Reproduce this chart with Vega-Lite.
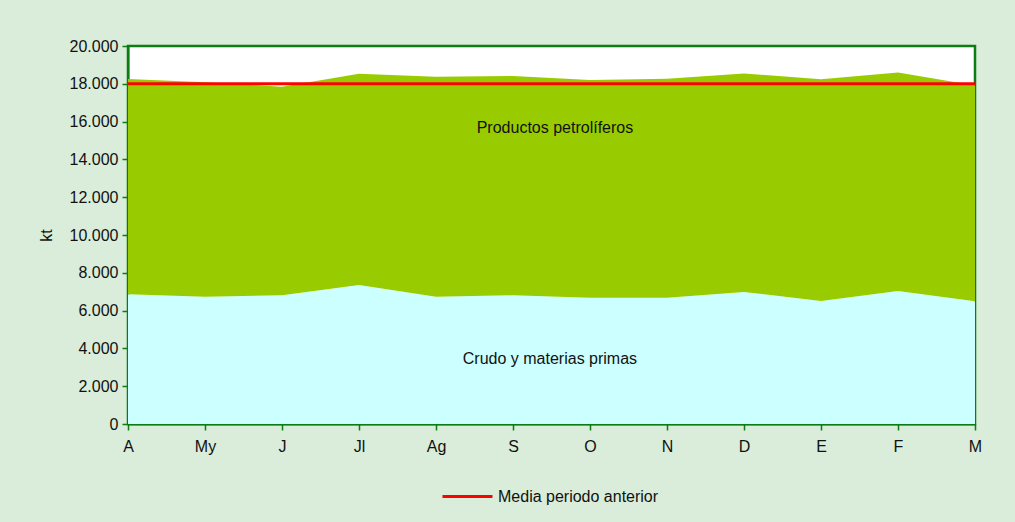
{
  "$schema": "https://vega.github.io/schema/vega-lite/v6.json",
  "width": 847,
  "height": 378,
  "autosize": {"type": "none"},
  "padding": {"left": 128, "top": 46, "right": 40, "bottom": 98},
  "background": "#d9edda",
  "config": {
    "font": "Liberation Sans",
    "view": {"fill": "#ffffff", "stroke": "#0b7d12", "strokeWidth": 2.5},
    "axis": {
      "labelFont": "Liberation Sans",
      "titleFont": "Liberation Sans",
      "labelFontSize": 16,
      "titleFontSize": 16,
      "labelColor": "#111111",
      "titleColor": "#111111",
      "domainColor": "#0b7d12",
      "domainWidth": 2,
      "tickColor": "#0b7d12",
      "tickWidth": 1.5,
      "tickSize": 6,
      "grid": false
    }
  },
  "datasets": {
    "areas": [
      {"i": 0, "mes": "A", "serie": "Crudo y materias primas", "orden": 1, "valor": 6860},
      {"i": 1, "mes": "My", "serie": "Crudo y materias primas", "orden": 1, "valor": 6735},
      {"i": 2, "mes": "J", "serie": "Crudo y materias primas", "orden": 1, "valor": 6810},
      {"i": 3, "mes": "Jl", "serie": "Crudo y materias primas", "orden": 1, "valor": 7350},
      {"i": 4, "mes": "Ag", "serie": "Crudo y materias primas", "orden": 1, "valor": 6735},
      {"i": 5, "mes": "S", "serie": "Crudo y materias primas", "orden": 1, "valor": 6810},
      {"i": 6, "mes": "O", "serie": "Crudo y materias primas", "orden": 1, "valor": 6685},
      {"i": 7, "mes": "N", "serie": "Crudo y materias primas", "orden": 1, "valor": 6685},
      {"i": 8, "mes": "D", "serie": "Crudo y materias primas", "orden": 1, "valor": 6985},
      {"i": 9, "mes": "E", "serie": "Crudo y materias primas", "orden": 1, "valor": 6510},
      {"i": 10, "mes": "F", "serie": "Crudo y materias primas", "orden": 1, "valor": 7040},
      {"i": 11, "mes": "M", "serie": "Crudo y materias primas", "orden": 1, "valor": 6490},
      {"i": 0, "mes": "A", "serie": "Productos petrolíferos", "orden": 2, "valor": 11395},
      {"i": 1, "mes": "My", "serie": "Productos petrolíferos", "orden": 2, "valor": 11345},
      {"i": 2, "mes": "J", "serie": "Productos petrolíferos", "orden": 2, "valor": 11040},
      {"i": 3, "mes": "Jl", "serie": "Productos petrolíferos", "orden": 2, "valor": 11185},
      {"i": 4, "mes": "Ag", "serie": "Productos petrolíferos", "orden": 2, "valor": 11640},
      {"i": 5, "mes": "S", "serie": "Productos petrolíferos", "orden": 2, "valor": 11600},
      {"i": 6, "mes": "O", "serie": "Productos petrolíferos", "orden": 2, "valor": 11515},
      {"i": 7, "mes": "N", "serie": "Productos petrolíferos", "orden": 2, "valor": 11585},
      {"i": 8, "mes": "D", "serie": "Productos petrolíferos", "orden": 2, "valor": 11565},
      {"i": 9, "mes": "E", "serie": "Productos petrolíferos", "orden": 2, "valor": 11730},
      {"i": 10, "mes": "F", "serie": "Productos petrolíferos", "orden": 2, "valor": 11560},
      {"i": 11, "mes": "M", "serie": "Productos petrolíferos", "orden": 2, "valor": 11420}
    ],
    "media": [
      {"serie": "Media periodo anterior", "valor": 18000}
    ]
  },
  "layer": [
    {
      "data": {"name": "areas"},
      "mark": {"type": "area", "interpolate": "linear"},
      "encoding": {
        "x": {
          "field": "i",
          "type": "quantitative",
          "scale": {"domain": [0, 11], "nice": false, "zero": false},
          "axis": {
            "values": [0,1,2,3,4,5,6,7,8,9,10,11],
            "tickCount": 24,
            "labelExpr": "['A','My','J','Jl','Ag','S','O','N','D','E','F','M'][datum.value]",
            "title": null,
            "labelPadding": 8,
            "labelFlush": false,
            "labelOverlap": false
          }
        },
        "y": {
          "field": "valor",
          "type": "quantitative",
          "stack": "zero",
          "scale": {"domain": [0, 20000], "nice": false},
          "axis": {
            "values": [0,2000,4000,6000,8000,10000,12000,14000,16000,18000,20000],
            "tickCount": 24,
            "labelExpr": "replace(format(datum.value, ','), ',', '.')",
            "labelOverlap": false,
            "labelBound": false,
            "title": "kt",
            "titleX": -74,
            "titleY": 189,
            "titleAngle": -90,
            "titleFontWeight": "normal",
            "labelPadding": 4
          }
        },
        "fill": {
          "field": "serie",
          "type": "nominal",
          "scale": {"domain": ["Crudo y materias primas", "Productos petrolíferos"], "range": ["#ccffff", "#99cc00"]},
          "legend": null
        },
        "order": {"field": "orden", "type": "quantitative"}
      }
    },
    {
      "data": {"name": "media"},
      "mark": {"type": "rule", "strokeWidth": 3},
      "encoding": {
        "y": {"field": "valor", "type": "quantitative"},
        "stroke": {
          "field": "serie",
          "type": "nominal",
          "scale": {"domain": ["Media periodo anterior"], "range": ["#ff0000"]},
          "legend": {
            "title": null,
            "orient": "none",
            "legendX": 313,
            "legendY": 424,
            "symbolType": "stroke",
            "symbolSize": 2500,
            "symbolStrokeWidth": 3,
            "labelFontSize": 16,
            "labelFont": "Liberation Sans",
            "labelColor": "#111111",
            "labelOffset": 4,
            "labelLimit": 400
          }
        }
      }
    },
    {
      "data": {"values": [{}]},
      "mark": {"type": "text", "fontSize": 16, "font": "Liberation Sans", "color": "#111111"},
      "encoding": {
        "x": {"datum": 5.545},
        "y": {"datum": 15660},
        "text": {"value": "Productos petrolíferos"}
      }
    },
    {
      "data": {"values": [{}]},
      "mark": {"type": "text", "fontSize": 16, "font": "Liberation Sans", "color": "#111111"},
      "encoding": {
        "x": {"datum": 5.48},
        "y": {"datum": 3440},
        "text": {"value": "Crudo y materias primas"}
      }
    }
  ]
}
